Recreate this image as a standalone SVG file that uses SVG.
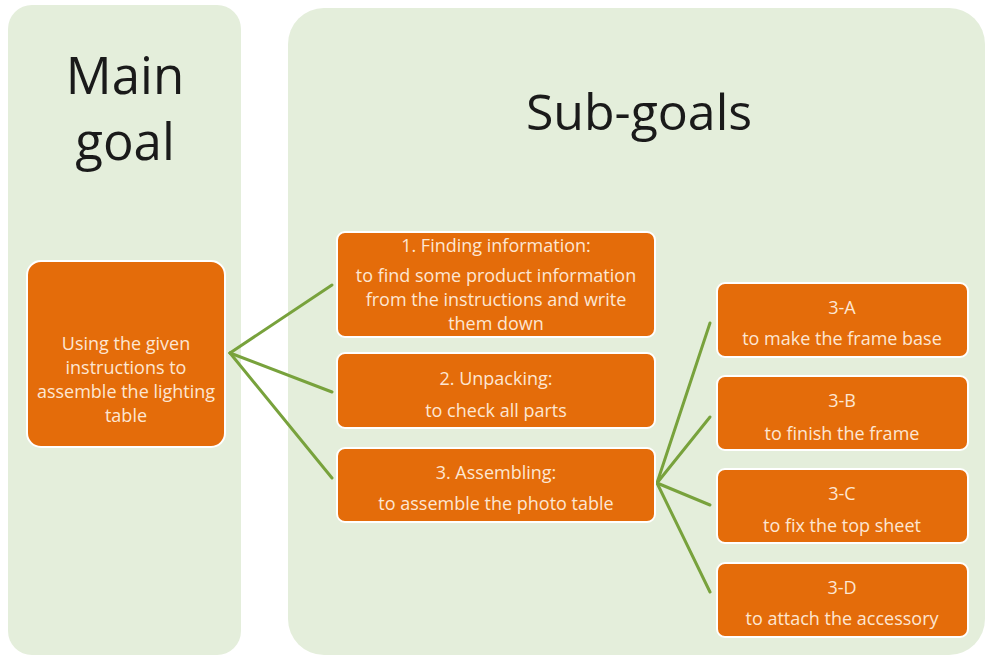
<svg xmlns="http://www.w3.org/2000/svg" width="987" height="663" viewBox="0 0 987 663">
<style>
.panel{fill:#e4eedb;}
.box{fill:#e46c0a;stroke:#ffffff;stroke-width:2;}
.t{font-family:"Open Sans","Liberation Sans",sans-serif;font-size:18px;fill:#fde6d2;text-anchor:middle;}
.title{font-family:"Open Sans","Liberation Sans",sans-serif;fill:#1a1a1a;text-anchor:middle;}
.c{stroke:#78a23c;stroke-width:3;fill:none;stroke-linecap:round;}
</style>
<rect width="987" height="663" fill="#ffffff"/>
<g id="panel-main">
<rect class="panel" x="8" y="5" width="233" height="650" rx="24"/>
<text class="title" x="125" y="94" font-size="51">Main</text>
<text class="title" x="125" y="160" font-size="51">goal</text>
</g>
<g id="panel-sub">
<rect class="panel" x="288" y="8" width="697" height="647" rx="36"/>
<text class="title" x="639" y="130" font-size="50">Sub-goals</text>
</g>
<g id="connectors">
<line class="c" x1="230" y1="353" x2="332" y2="285"/>
<line class="c" x1="230" y1="353" x2="332" y2="392"/>
<line class="c" x1="230" y1="353" x2="332" y2="478"/>
<line class="c" x1="657" y1="483" x2="710" y2="323"/>
<line class="c" x1="657" y1="483" x2="710" y2="417"/>
<line class="c" x1="657" y1="483" x2="710" y2="505"/>
<line class="c" x1="657" y1="483" x2="710" y2="592"/>
</g>
<g id="main-goal">
<rect class="box" x="27" y="261" width="198" height="186" rx="14"/>
<text class="t" x="126" y="350">Using the given</text>
<text class="t" x="126" y="374">instructions to</text>
<text class="t" x="126" y="398">assemble the lighting</text>
<text class="t" x="126" y="422">table</text>
</g>
<g id="sub1">
<rect class="box" x="337" y="232" width="318" height="105" rx="8"/>
<text class="t" x="496" y="252">1. Finding information:</text>
<text class="t" x="496" y="282">to find some product information</text>
<text class="t" x="496" y="306">from the instructions and write</text>
<text class="t" x="496" y="330">them down</text>
</g>
<g id="sub2">
<rect class="box" x="337" y="353" width="318" height="75" rx="8"/>
<text class="t" x="496" y="385">2. Unpacking:</text>
<text class="t" x="496" y="417">to check all parts</text>
</g>
<g id="sub3">
<rect class="box" x="337" y="448" width="318" height="74" rx="8"/>
<text class="t" x="496" y="479">3. Assembling:</text>
<text class="t" x="496" y="510">to assemble the photo table</text>
</g>
<g id="sub3a">
<rect class="box" x="717" y="283" width="251" height="74" rx="8"/>
<text class="t" x="842" y="314">3-A</text>
<text class="t" x="842" y="345">to make the frame base</text>
</g>
<g id="sub3b">
<rect class="box" x="717" y="376" width="251" height="74" rx="8"/>
<text class="t" x="842" y="407">3-B</text>
<text class="t" x="842" y="440">to finish the frame</text>
</g>
<g id="sub3c">
<rect class="box" x="717" y="469" width="251" height="74" rx="8"/>
<text class="t" x="842" y="500">3-C</text>
<text class="t" x="842" y="532">to fix the top sheet</text>
</g>
<g id="sub3d">
<rect class="box" x="717" y="563" width="251" height="74" rx="8"/>
<text class="t" x="842" y="594">3-D</text>
<text class="t" x="842" y="625">to attach the accessory</text>
</g>
</svg>
